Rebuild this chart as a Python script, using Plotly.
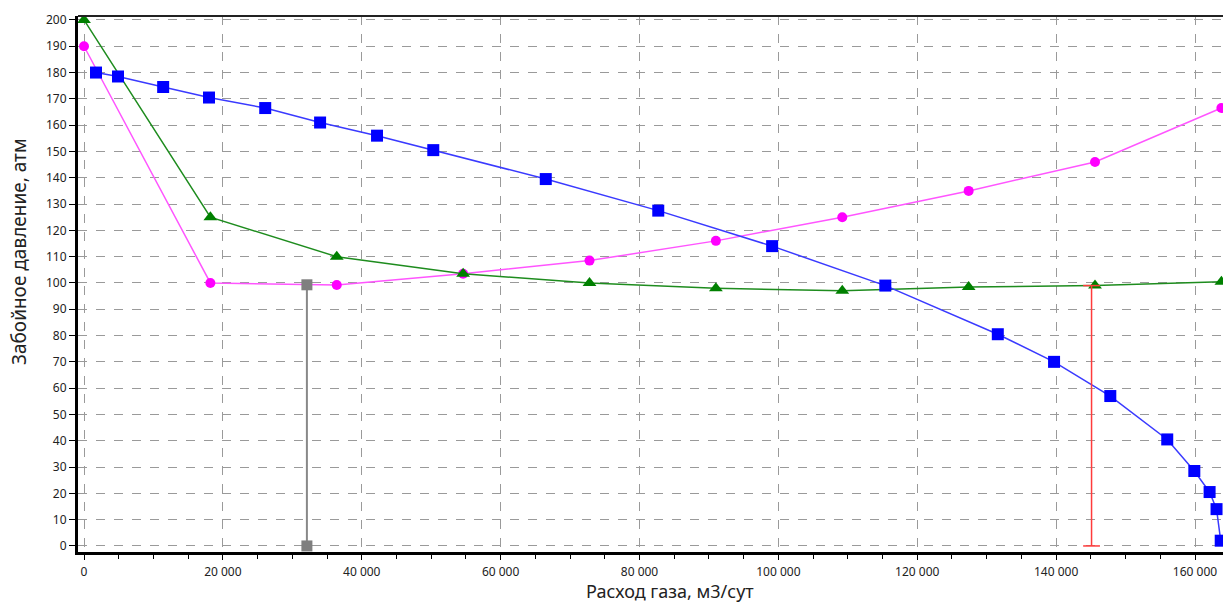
import plotly.graph_objects as go

# ---- data ----
blue_x = [1730, 4900, 11400, 18000, 26100, 34000, 42200, 50300, 66500, 82700,
          99100, 115400, 131600, 139700, 147800, 156000, 159900, 162100, 163100, 163700]
blue_y = [180, 178.5, 174.5, 170.5, 166.5, 161, 156, 150.5, 139.5, 127.5,
          114, 99, 80.5, 70, 57, 40.5, 28.5, 20.5, 14, 2]

green_x = [0, 18200, 36400, 54600, 72800, 91000, 109200, 127400, 145600, 163800]
green_y = [200, 125, 110, 103.5, 100, 98, 97, 98.5, 99, 100.5]

magenta_x = [0, 18200, 36400, 54600, 72800, 91000, 109200, 127400, 145600, 163800]
magenta_y = [190, 100, 99.2, 103.5, 108.5, 116, 125, 135, 146, 166.5]

gray_x = [32100, 32100]
gray_y = [0, 99.3]

red_x = [145100, 145100]
red_y = [0, 99]

x_tickvals = [0, 20000, 40000, 60000, 80000, 100000, 120000, 140000, 160000]
x_ticktext = ["0", "20 000", "40 000", "60 000", "80 000", "100 000", "120 000", "140 000", "160 000"]
y_tickvals = list(range(0, 201, 10))

x_title = "Расход газа, м3/сут"
y_title = "Забойное давление, атм"

FONT = "Noto Sans"

W, H = 1223, 603
ML, MT, MB = 78, 16, 51
PW, PH = W - ML, H - MT - MB

fig = go.Figure()

fig.add_trace(go.Scatter(x=magenta_x, y=magenta_y, mode="lines+markers",
                         line=dict(color="#ff55ff", width=1.5),
                         marker=dict(symbol="circle", size=10, color="#ff00ff")))
fig.add_trace(go.Scatter(x=green_x, y=green_y, mode="lines+markers",
                         line=dict(color="#1e8c1e", width=1.5),
                         marker=dict(symbol="triangle-up", size=12, color="#008000")))
fig.add_trace(go.Scatter(x=blue_x, y=blue_y, mode="lines+markers",
                         line=dict(color="#3a3aff", width=1.5),
                         marker=dict(symbol="square", size=12, color="#0000ff")))
fig.add_trace(go.Scatter(x=gray_x, y=gray_y, mode="lines+markers",
                         line=dict(color="#888888", width=2),
                         marker=dict(symbol="square", size=11, color="#7f7f7f")))
fig.add_trace(go.Scatter(x=red_x, y=red_y, mode="lines+markers",
                         line=dict(color="#ff3b3b", width=1.5),
                         marker=dict(symbol="line-ew-open", size=12,
                                     line=dict(color="#ff3b3b", width=1.5))))

fig.update_layout(
    width=W, height=H,
    margin=dict(l=ML, r=0, t=MT, b=MB, autoexpand=False),
    paper_bgcolor="white", plot_bgcolor="white",
    showlegend=False,
    font=dict(family=FONT, size=12, color="#222"),
    xaxis=dict(range=[-864, 164030], tickvals=x_tickvals, ticktext=x_ticktext,
               automargin=False,
               showgrid=True, gridcolor="#9a9a9a", griddash="dash", gridwidth=1,
               zeroline=False, showline=True, linecolor="black", linewidth=3,
               mirror=False, ticks="outside", ticklen=5, tickcolor="black",
               ticklabelstandoff=2,
               tickfont=dict(family=FONT, size=12, color="#222"),
               minor=dict(dtick=5000, tick0=0, ticks="outside", ticklen=4,
                          tickcolor="black", showgrid=False)),
    yaxis=dict(range=[-2.3, 201.5], tickvals=y_tickvals, automargin=False,
               showgrid=True, gridcolor="#9a9a9a", griddash="dash", gridwidth=1,
               zeroline=False, showline=True, linecolor="black", linewidth=3,
               ticks="outside", ticklen=6, tickcolor="black",
               tickfont=dict(family=FONT, size=12, color="#222")),
    annotations=[
        dict(text=x_title, xref="paper", yref="paper", x=(670 - ML) / PW, y=-39 / PH,
             xanchor="center", yanchor="middle", showarrow=False,
             font=dict(family=FONT, size=18, color="#222")),
        dict(text=y_title, xref="paper", yref="paper", x=-59 / PW, y=(552 - 252) / PH,
             xanchor="center", yanchor="middle", showarrow=False, textangle=-90,
             font=dict(family=FONT, size=19, color="#222")),
    ],
    shapes=[dict(type="line", xref="paper", yref="paper", x0=0, x1=1, y0=1, y1=1,
                 line=dict(color="#222", width=2))],
)

fig.write_html(
    "out.html",
    config={"displayModeBar": False},
    post_script="document.body.style.margin='0';document.body.style.overflow='hidden';",
)
